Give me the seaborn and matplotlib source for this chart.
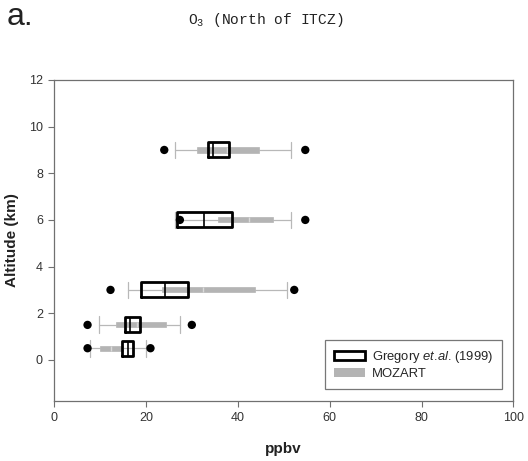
import matplotlib
matplotlib.use('Agg')
import matplotlib.pyplot as plt
from matplotlib.patches import Patch
import seaborn as sns
import pandas as pd

# ---- data ----
altitude = [9, 6, 3, 1.5, 0.5]
greg_q1 = [33.5, 26.7, 18.9, 15.5, 14.9]
greg_med = [34.6, 32.7, 24.2, 16.5, 16.2]
greg_q3 = [38.2, 38.7, 29.2, 18.7, 17.3]
moz_q1 = [31.1, 35.8, 23.4, 13.5, 10.0]
moz_med = [37.6, 42.5, 32.5, 18.0, 12.5]
moz_q3 = [44.7, 47.6, 43.8, 24.4, 15.1]
whisker_lo = [26.4, 26.4, 16.1, 9.8, 7.8]
whisker_hi = [51.5, 51.5, 50.7, 27.4, 20.0]
outlier_lo = [24.0, 27.4, 12.3, 7.3, 7.3]
outlier_hi = [54.7, 54.7, 52.3, 30.0, 21.0]
series_labels = ["Gregory $\\mathit{et}$.$\\mathit{al}$. (1999)", "MOZART"]
x_ticks = [0, 20, 40, 60, 80, 100]
y_ticks = [0, 2, 4, 6, 8, 10, 12]

sns.set_style('ticks')
plt.rcParams['font.family'] = ['Liberation Sans', 'DejaVu Sans']
plt.rcParams['mathtext.fontset'] = 'custom'
plt.rcParams['mathtext.rm'] = 'Liberation Mono'
plt.rcParams['mathtext.it'] = 'Liberation Sans:italic'

fig = plt.figure(figsize=(5.28, 4.61), dpi=100)
ax = fig.add_axes([0.1023, 0.1308, 0.870, 0.6957])

box_gray = '#b4b4b4'
whisk_gray = '#b8b8b8'

moz_stats = [dict(q1=a, med=m, q3=b, whislo=lo, whishi=hi, fliers=[])
             for a, m, b, lo, hi in zip(moz_q1, moz_med, moz_q3, whisker_lo, whisker_hi)]
ax.bxp(moz_stats, positions=altitude, widths=0.22, orientation='horizontal',
       patch_artist=True, showfliers=False, capwidths=0.72, manage_ticks=False,
       boxprops=dict(facecolor=box_gray, edgecolor=box_gray, linewidth=0.5),
       whiskerprops=dict(color=whisk_gray, linewidth=0.9),
       capprops=dict(color=whisk_gray, linewidth=0.9),
       medianprops=dict(color='#dadada', linewidth=1.0), zorder=2)

greg_stats = [dict(q1=a, med=m, q3=b, whislo=a, whishi=b, fliers=[])
              for a, m, b in zip(greg_q1, greg_med, greg_q3)]
ax.bxp(greg_stats, positions=altitude, widths=0.64, orientation='horizontal',
       patch_artist=False, showfliers=False, showcaps=False, manage_ticks=False,
       boxprops=dict(color='black', linewidth=2.0),
       whiskerprops=dict(linewidth=0),
       medianprops=dict(color='black', linewidth=1.2), zorder=3)

df_out = pd.DataFrame({'value': outlier_lo + outlier_hi,
                       'alt': altitude + altitude})
sns.scatterplot(data=df_out, x='value', y='alt', color='black', s=36,
                edgecolor='none', legend=False, ax=ax, zorder=4)

ax.set_xlim(0, 100)
ax.set_ylim(-1.75, 12)
ax.set_xticks(x_ticks)
ax.set_yticks(y_ticks)
ax.tick_params(direction='out', length=4, width=0.8, colors='#707070',
               labelcolor='#333333', labelsize=9, pad=4)
for sp in ax.spines.values():
    sp.set_color('#707070')
    sp.set_linewidth(0.9)
    sp.set_visible(True)

ax.set_xlabel('ppbv', fontsize=11, fontweight='bold', color='#222222')
ax.set_ylabel('Altitude (km)', fontsize=11, fontweight='bold', color='#222222')
ax.xaxis.set_label_coords(0.5, -0.129)
ax.yaxis.set_label_coords(-0.076, 0.5)

handles = [Patch(facecolor='white', edgecolor='black', linewidth=2.0),
           Patch(facecolor=box_gray, edgecolor='none')]
leg = ax.legend(handles, series_labels, loc='lower right',
                bbox_to_anchor=(0.975, 0.036), borderaxespad=0, frameon=True,
                fancybox=False, edgecolor='#777777', fontsize=9.4,
                handlelength=2.4, handleheight=0.65, borderpad=0.7,
                labelspacing=0.25, handletextpad=0.5)
leg.get_frame().set_linewidth(0.9)
leg.get_frame().set_alpha(1)

fig.text(0.504, 1 - 24 / 461, 'O$_{3}$ (North of ITCZ)', family='Liberation Mono',
         fontsize=10.5, ha='center', va='baseline', color='#222222')
fig.text(7 / 528, 1 - 25 / 461, 'a.', fontsize=23, ha='left', va='baseline',
         color='#222222')

fig.savefig('out.png', dpi=100)
